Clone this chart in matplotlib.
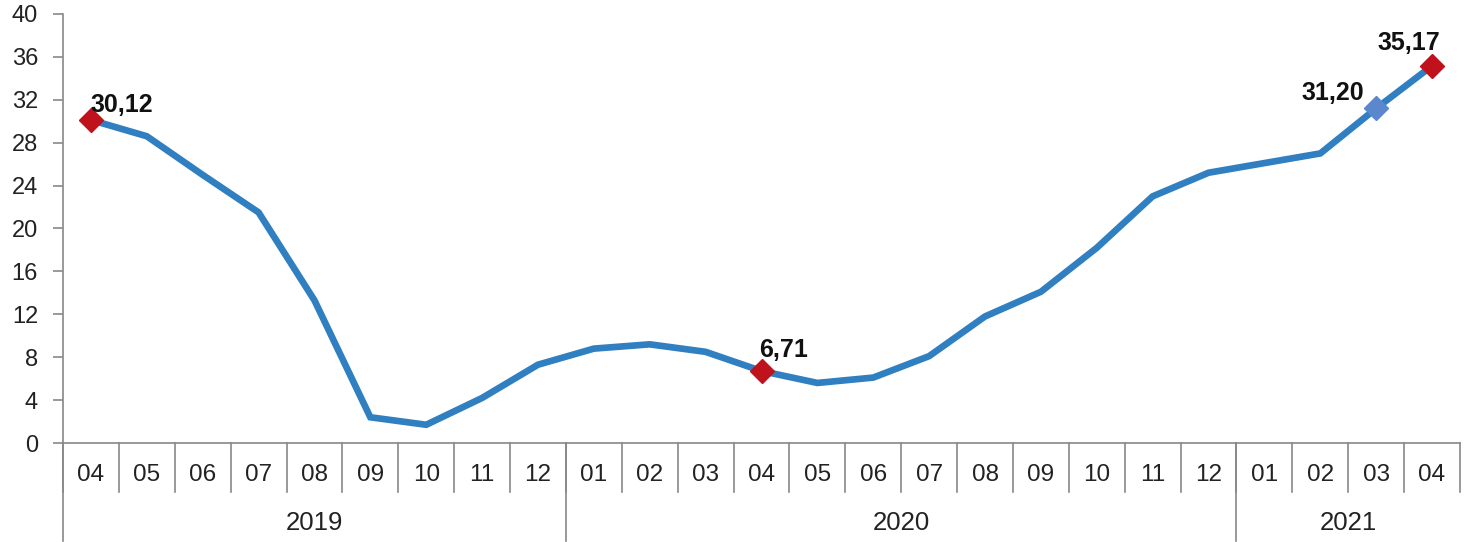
import matplotlib
matplotlib.use("Agg")
import matplotlib.pyplot as plt
import matplotlib.transforms as mtransforms

plt.rcParams['font.family'] = ['Liberation Sans', 'DejaVu Sans']

months = ["04", "05", "06", "07", "08", "09", "10", "11", "12",
          "01", "02", "03", "04", "05", "06", "07", "08", "09", "10", "11", "12",
          "01", "02", "03", "04"]
years = ["2019", "2020", "2021"]
year_counts = [9, 12, 4]
values = [30.12, 28.6, 25.0, 21.5, 13.3, 2.4, 1.7, 4.2, 7.3,
          8.8, 9.2, 8.5, 6.71, 5.6, 6.1, 8.1, 11.8, 14.1, 18.2, 23.0, 25.2,
          26.1, 27.0, 31.20, 35.17]
highlight_red = [0, 12, 24]
highlight_blue = [23]
label_texts = {0: "30,12", 12: "6,71", 23: "31,20", 24: "35,17"}

line_color = "#2F7FC1"
red = "#C0121C"
blue = "#5B88CC"
grey = "#888888"
txt = "#222222"

W, H = 1470, 542
left_px, right_px, top_px, bottom_px = 63, 1460, 14, 443
ax_h = bottom_px - top_px

fig = plt.figure(figsize=(W/100, H/100), dpi=100)
ax = fig.add_axes([left_px/W, 1-bottom_px/H, (right_px-left_px)/W, ax_h/H])

x = list(range(len(values)))
ax.plot(x, values, color=line_color, lw=4.8, solid_joinstyle='miter', zorder=2)
ax.plot([x[i] for i in highlight_red], [values[i] for i in highlight_red],
        'D', color=red, ms=12, zorder=3, linestyle='none')
ax.plot([x[i] for i in highlight_blue], [values[i] for i in highlight_blue],
        'D', color=blue, ms=12, zorder=3, linestyle='none')

offsets = {0: ((0, 6), 'left'), 12: ((-1.5, 10), 'left'),
           23: ((-9, 6), 'right'), 24: ((-16.5, 11.5), 'center')}
for i, t in label_texts.items():
    (dx, dy), ha = offsets[i]
    ax.annotate(t, (x[i], values[i]), xytext=(dx, dy), textcoords='offset points',
                ha=ha, va='baseline', fontsize=18, fontweight='bold', color='#111111')

ax.set_xlim(-0.5, len(values) - 0.5)
ax.set_ylim(0, 40)
ax.set_yticks(range(0, 41, 4))
ax.tick_params(axis='y', labelsize=17, length=7, width=1.2, color=grey, pad=11,
               labelcolor=txt)
ax.set_xticks([])
for s in ['top', 'right']:
    ax.spines[s].set_visible(False)
for s in ['left', 'bottom']:
    ax.spines[s].set_color(grey)
    ax.spines[s].set_linewidth(1.2)

trans = mtransforms.blended_transform_factory(ax.transData, ax.transAxes)
month_bottom = -49/ax_h
year_bottom = -98/ax_h
for k in range(len(values) + 1):
    xb = k - 0.5
    ax.plot([xb, xb], [0, month_bottom], transform=trans, color=grey, lw=1.2,
            clip_on=False)
bounds = [0]
for c in year_counts:
    bounds.append(bounds[-1] + c)
for bnd in bounds[:-1]:
    ax.plot([bnd - 0.5, bnd - 0.5], [0, year_bottom], transform=trans, color=grey,
            lw=1.2, clip_on=False)
for i, m in enumerate(months):
    ax.text(i, -32/ax_h, m, transform=trans, ha='center', va='center',
            fontsize=17.5, color=txt)
for j, yname in enumerate(years):
    mid = (bounds[j] + bounds[j + 1] - 1) / 2
    ax.text(mid, -80/ax_h, yname, transform=trans, ha='center', va='center',
            fontsize=18.5, color=txt)

fig.savefig("out.png", dpi=100)
